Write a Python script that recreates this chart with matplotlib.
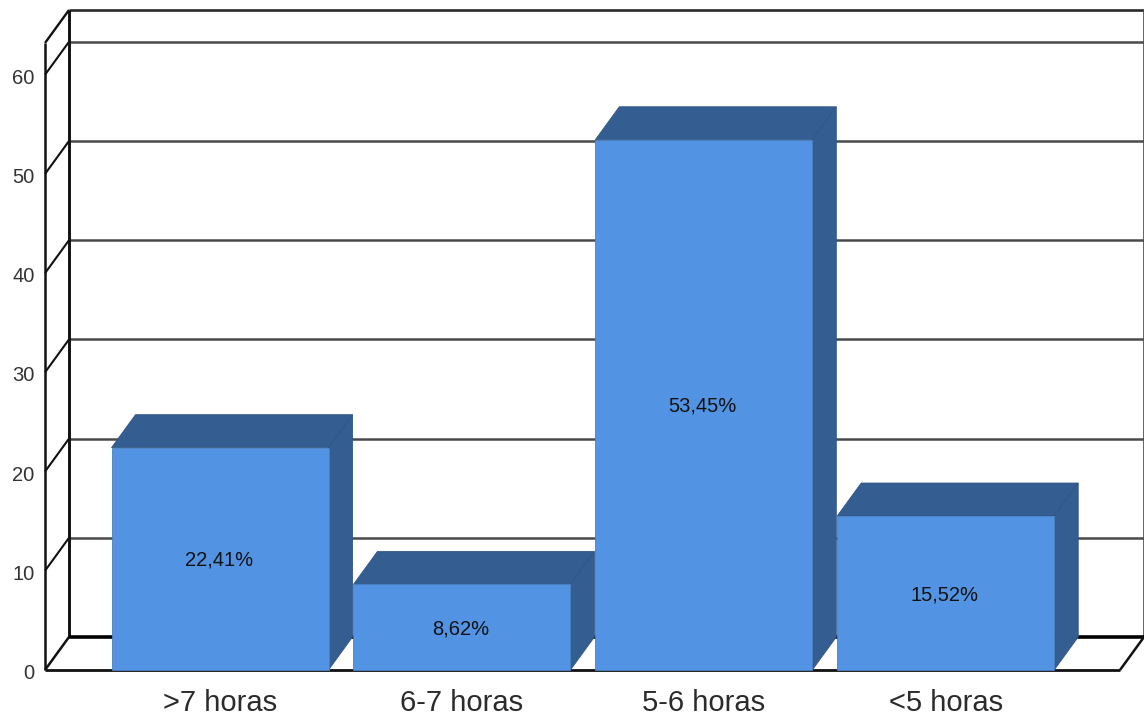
import matplotlib
matplotlib.use('Agg')
import matplotlib.pyplot as plt
from matplotlib.patches import Polygon
from matplotlib.transforms import ScaledTranslation

categories = ['>7 horas', '6-7 horas', '5-6 horas', '<5 horas']
percentages = [22.41, 8.62, 53.45, 15.52]
value_labels = ['22,41%', '8,62%', '53,45%', '15,52%']
y_ticks = [0, 10, 20, 30, 40, 50, 60]

FRONT = '#5294e3'
SHADE = '#345d92'
EDGE = '#2f5585'
GRID = '#4a4a4a'
INK = '#111111'

W, H = 1144, 717
# axes box in pixels, counted from the top left corner
LEFT, RIGHT, TOP, BOTTOM = 45, 1120, 43, 670
PX_X = 241.9
PX_Y = 9.92
BAR_WIDTH = 217 / PX_X
DX = 24 / PX_X
DY = 33 / PX_Y

plt.rcParams['font.family'] = ['Liberation Sans', 'DejaVu Sans']

fig = plt.figure(figsize=(W / 100, H / 100), dpi=100)
ax = fig.add_axes([LEFT / W, 1 - BOTTOM / H, (RIGHT - LEFT) / W, (BOTTOM - TOP) / H])
xmin = (LEFT - 220) / PX_X
xmax = (RIGHT - 220) / PX_X
ymax = (BOTTOM - TOP) / PX_Y
ax.set_xlim(xmin, xmax)
ax.set_ylim(0, ymax)
ax.patch.set_visible(False)
for s in ax.spines.values():
    s.set_visible(False)


def line(xs, ys, color=INK, lw=1.8, z=1):
    ax.plot(xs, ys, color=color, lw=lw, clip_on=False, zorder=z, solid_capstyle='butt')


# back wall gridlines and their run along the left wall
for t in y_ticks[1:]:
    line([xmin + DX, xmax + DX], [t + DY, t + DY], color=GRID, lw=1.8)
    line([xmin, xmin + DX], [t, t + DY], lw=1.5)

# wall and floor frame
line([xmin + DX, xmax + DX], [ymax + DY, ymax + DY], color='#2a2a2a', lw=1.9)
line([xmin + DX, xmin + DX], [DY, ymax + DY], lw=2.1)
line([xmax + DX, xmax + DX], [DY, ymax + DY], color=GRID, lw=1.2)
line([xmin, xmin], [0, ymax], lw=1.8)
line([xmin, xmin + DX], [ymax, ymax + DY], lw=1.7)
line([xmin + DX, xmax + DX], [DY, DY], color='#000000', lw=2.6)
line([xmin, xmax], [0, 0], lw=2.0)
line([xmin, xmin + DX], [0, DY], lw=1.8)
line([xmax, xmax + DX], [0, DY], lw=1.8)

# bars: front face plus top and side faces
positions = range(len(categories))
ax.bar(positions, percentages, width=BAR_WIDTH, color=FRONT, edgecolor='#4a7fc0',
       linewidth=0.6, zorder=3, clip_on=False)
for i, v in zip(positions, percentages):
    x0 = i - BAR_WIDTH / 2
    x1 = i + BAR_WIDTH / 2
    top = [(x0, v), (x1, v), (x1 + DX, v + DY), (x0 + DX, v + DY)]
    side = [(x1, 0), (x1 + DX, DY), (x1 + DX, v + DY), (x1, v)]
    for pts in (top, side):
        ax.add_patch(Polygon(pts, closed=True, facecolor=SHADE, edgecolor=EDGE,
                             linewidth=0.6, zorder=2.5, clip_on=False))

# value labels sit slightly under the middle of each front face
nudge = ax.transData + ScaledTranslation(-1 / 100, -1.5 / 100, fig.dpi_scale_trans)
for i, v, lab in zip(positions, percentages, value_labels):
    ax.text(i, v / 2, lab, ha='center', va='center', fontsize=14.5, color='#111111',
            zorder=4, transform=nudge)

ax.set_xticks(list(positions))
ax.set_xticklabels(categories, fontsize=21, color='#2b2b2b')
ax.set_yticks(y_ticks)
ax.set_yticklabels([str(t) for t in y_ticks], fontsize=14.5, color='#333333')
ax.tick_params(axis='x', length=0, pad=13.5)
ax.tick_params(axis='y', length=0, pad=7.5)
down = ScaledTranslation(0, -1.5 / 100, fig.dpi_scale_trans)
for lab in ax.get_yticklabels():
    lab.set_transform(lab.get_transform() + down)

fig.savefig('out.png', dpi=100, facecolor='white')
